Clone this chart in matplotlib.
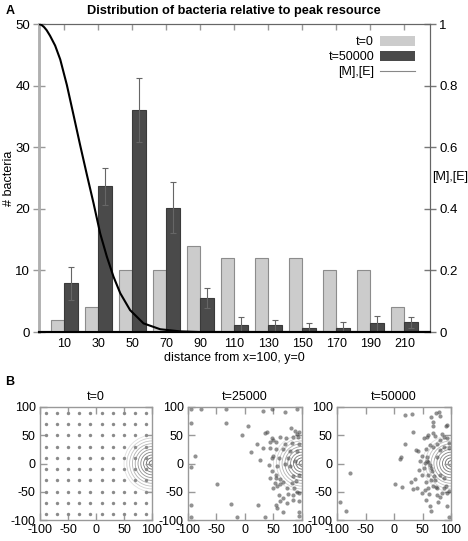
"""
Distribution of bacteria relative to peak resource (panel A) and
bacteria positions at three time points (panel B).
"""

import numpy as np
import matplotlib
matplotlib.use('Agg')
from matplotlib import pyplot as plt
from matplotlib.patches import Circle, Patch
from matplotlib.lines import Line2D

plt.rcParams['font.family'] = ['Liberation Sans', 'DejaVu Sans']
plt.rcParams['axes.unicode_minus'] = False

# ---- panel A data
distance = [10, 30, 50, 70, 90, 110, 130, 150, 170, 190, 210]
count_t0 = [2, 4, 10, 10, 14, 12, 12, 12, 10, 10, 4]
count_t50000 = [7.9, 23.7, 36.0, 20.2, 5.5, 1.2, 1.1, 0.7, 0.7, 1.4, 1.6]
err_t50000 = [2.7, 3.0, 5.2, 4.2, 1.6, 1.3, 0.9, 0.8, 1.0, 1.25, 0.9]

# [M],[E] profile (distance, concentration)
curve_d = [-5, -3.5, -2, -0.5, 1.5, 4.5, 7.5, 11.4, 15.3, 19.2, 23.2, 27.1, 31.0,
           34.9, 38.8, 42.8, 48.6, 56.5, 66.3, 78.1, 89.8, 110, 150, 225]
curve_c = [1.0, 0.997, 0.99, 0.98, 0.962, 0.93, 0.885, 0.802, 0.705, 0.607, 0.510,
           0.418, 0.320, 0.245, 0.180, 0.126, 0.071, 0.028, 0.009, 0.002, 0.0,
           0.0, 0.0, 0.0]

# ---- panel B data
grid_pos = [-90, -70, -50, -30, -10, 10, 30, 50, 70, 90]

x_25000 = [-95, -77, -33, 32, 48, 71, 91, -95, -34, 6, -5, 35, 38, 80, 87, 92, 94,
           93, 85, 61, 72, 47, 50, 44, 55, 70, 82, 94, 21, 32, 44, 55, 67, 79, 11,
           27, 47, 50, 59, -87, -95, 42, 56, 47, 55, 43, 54, 61, 52.5, 61, 50, 57,
           67, 73, 82, 86, 91, 94, 76, 60, 85, -49, 66, 61, 55, 57, 73, 84, -94,
           -24, 23, 95, 95, -95, -14, 35, 95, 67, 91, 87, 94, 85, 90, 76, 70, 79]
y_25000 = [96, 96, 96, 93, 96, 92, 96, 72, 71, 67, 50, 54, 56, 62, 57, 53, 56,
           47, 47, 47, 46, 46, 41, 38, 38, 35, 36, 35, 34, 27, 28, 25, 25, 23, 20,
           7, 10, 13, 10, 14, -6, -3.5, -5, -13.6, -19.5, -25, -25, -28, -34, -37,
           -43, -40, -32.5, -44, -34, -43, -50, -53, -54, -55, -55, -37, -61, -66,
           -73, -79, -70, -65, -74, -72, -73, -67, -85, -95, -94, -95, -93, -85, 22,
           4, -19.5, -22.5, -31, 10, -1, -5]

x_50000 = [-95, -83.5, -76.5, 2, 13.5, 33, 40, 29, 37, 10.5, 12, 19, 19, 31, 34,
           39, 42, 46, 49, 52, 55, 56.5, 57.5, 59, 64.5, 68, 69, 74, 79, 80.5, 91,
           93, 68, 72, 84, 87, 93, 80, 96, 76, 63.5, 69, 57.5, 59, 63.5, 66.5,
           60.5, 70.5, 64.5, 56.5, 68, 60.5, 55, 49, 56.5, 62, 76, 81, 84, 75, 87,
           91, 93, 96, 63.5, 64.5, 93, 96, 78, 72, 81, 88, 74, 57.5, 87, 96, 75,
           43, 49, 64.5, 52, 81]
y_50000 = [-69, -83.5, -17, -37, -42, -45, -44, -32, -28, 8, 11, 35, 85, 88, 56,
           24, 23, 4, 13.5, -8, 0.5, 25, 47, 51, 82, 73, 67, 89, 90.5, 84.5, 67,
           67.5, 54, 48, 53, 47, 45, 42, 36, 35, 33, 30, 4, 2, -2.5, -12.5, -20,
           -23, -29, -32, -40, -44, -47, -53, -64.5, -54, -55.5, -58.5, -53, -44,
           -44, -40, -53, -48, -76, -83.5, -76, -94, -67.5, -29, -20, -26, -41,
           11.5, 30, 27, 12, -11, -20, -8.5, 45, 24]

# resource contour radii around the peak at (100, 0)
contour_r = [5, 10, 15, 20, 25, 30, 35, 40, 45, 50]
peak = (100, 0)


def draw_contours(ax):
    shades = np.linspace(0.35, 0.88, len(contour_r))
    for r, g in zip(contour_r, shades):
        ax.add_patch(Circle(peak, r, fill=False, lw=0.6, ec=(g, g, g), zorder=1))


def style_panel(ax, title):
    ax.set_xlim(-100, 100)
    ax.set_ylim(-100, 100)
    ax.set_xticks([-100, -50, 0, 50, 100])
    ax.set_yticks([-100, -50, 0, 50, 100])
    ax.tick_params(direction='in', length=5, width=1, color='#999999',
                   top=True, right=True, labelsize=9, pad=3)
    for s in ax.spines.values():
        s.set_color('#999999')
        s.set_linewidth(1)
    ax.set_title(title, fontsize=9, pad=5)


def main():
    fig = plt.figure(figsize=(4.68, 5.41), dpi=100)

    # ---------------- panel A
    ax = fig.add_axes([0.0833, 0.3863, 0.8355, 0.5693])
    ax2 = ax.twinx()
    ax.set_zorder(ax2.get_zorder() + 1)
    ax.patch.set_visible(False)

    d = np.array(distance)
    w = 8.2
    ax.bar(d - w / 2, count_t0, width=w, color='#cccccc', edgecolor='#8c8c8c',
           linewidth=0.8, zorder=2)
    ax.bar(d + w / 2, count_t50000, width=w, color='#4a4a4a', edgecolor='#3a3a3a',
           linewidth=0.8, zorder=2)
    ax.errorbar(d + w / 2, count_t50000, yerr=err_t50000, fmt='none',
                ecolor='#666666', elinewidth=0.8, capsize=2, capthick=0.8, zorder=3)

    ax.plot(curve_d, np.array(curve_c) * 50, color='black', lw=1.5, zorder=4)

    ax.set_xlim(-5, 225)
    ax.set_ylim(0, 50)
    ax2.set_ylim(0, 1)
    ax.set_xticks(distance)
    ax.set_yticks([0, 10, 20, 30, 40, 50])
    ax2.set_yticks([0, 0.2, 0.4, 0.6, 0.8, 1])
    ax2.set_yticklabels(['0', '0.2', '0.4', '0.6', '0.8', '1'])

    ax.tick_params(axis='y', direction='inout', length=9, width=1, color='#999999',
                   labelsize=9.5, pad=2)
    ax2.tick_params(axis='y', direction='inout', length=9, width=1, color='#777777',
                    labelsize=9.5, pad=2)
    ax.tick_params(axis='x', direction='in', length=4, width=1, color='#999999',
                   top=True, labelsize=9, pad=4)

    for a in (ax, ax2):
        a.spines['left'].set_color('#b0b0b0')
        a.spines['left'].set_linewidth(1.8)
        a.spines['right'].set_color('#666666')
        a.spines['top'].set_color('#666666')
        a.spines['bottom'].set_color('black')
        a.spines['bottom'].set_linewidth(1.5)

    ax.set_xlabel('distance from x=100, y=0', fontsize=9, labelpad=2)
    ax.set_ylabel('# bacteria', fontsize=9)
    ax.yaxis.set_label_coords(-0.062, 0.5)
    ax2.set_ylabel('[M],[E]', fontsize=9, rotation=0, ha='left', va='center')
    ax2.yaxis.set_label_coords(1.005, 0.503)

    handles = [Patch(facecolor='#cccccc', edgecolor='none'),
               Patch(facecolor='#4a4a4a', edgecolor='none'),
               Line2D([], [], color='#888888', lw=0.8)]
    ax.legend(handles, ['t=0', 't=50000', '[M],[E]'], loc='upper right',
              markerfirst=False, frameon=False, fontsize=9, handlelength=2.8,
              handleheight=0.9, labelspacing=0.2, handletextpad=0.5,
              borderaxespad=0.3, bbox_to_anchor=(0.985, 0.99))

    fig.text(0.5, 0.99, 'Distribution of bacteria relative to peak resource',
             ha='center', va='top', fontsize=9.2, fontweight='bold')
    fig.text(0.012, 0.99, 'A', ha='left', va='top', fontsize=9, fontweight='bold')
    fig.text(0.012, 0.305, 'B', ha='left', va='top', fontsize=9, fontweight='bold')

    # ---------------- panel B
    b1 = fig.add_axes([0.0855, 0.0388, 0.2393, 0.2089])
    b2 = fig.add_axes([0.4017, 0.0388, 0.2436, 0.2089])
    b3 = fig.add_axes([0.7201, 0.0388, 0.2436, 0.2089])

    gx, gy = np.meshgrid(grid_pos, grid_pos)
    draw_contours(b1)
    b1.scatter(gx.ravel(), gy.ravel(), s=6, color='#8a8a8a', linewidths=0, zorder=2)
    style_panel(b1, 't=0')

    draw_contours(b2)
    b2.scatter(x_25000, y_25000, s=9, color='#4a4a4a', alpha=0.6, linewidths=0, zorder=2)
    style_panel(b2, 't=25000')

    draw_contours(b3)
    b3.scatter(x_50000, y_50000, s=9, color='#4a4a4a', alpha=0.6, linewidths=0, zorder=2)
    style_panel(b3, 't=50000')

    plt.savefig('out.png', dpi=100)


if __name__ == '__main__':
    main()
